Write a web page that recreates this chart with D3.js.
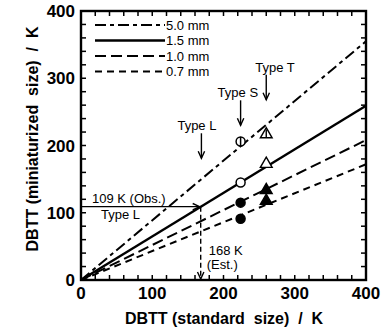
<!DOCTYPE html>
<html><head><meta charset="utf-8">
<script src="https://cdn.jsdelivr.net/npm/d3@7"></script>
<style>
html,body{margin:0;padding:0;background:#fff;}
svg{display:block;font-family:"Liberation Sans",Arial,Helvetica,sans-serif;}
text{white-space:pre;}
</style></head>
<body><svg id="c" width="385" height="331"></svg>
<script>
// ---- data ----
const seriesNames = ["5.0 mm", "1.5 mm", "1.0 mm", "0.7 mm"];
const seriesAt0 = [0, 0, 0, 0];
const seriesAt400 = [355, 259, 208, 172];
const typeNames = ["Type L", "Type S", "Type T"];
const typeX = [169, 224, 260];
const typeArrowTip = [181, 230, 268];
const typeS = [206, 145, 115, 91];   // 5.0, 1.5, 1.0, 0.7 mm
const typeT = [218, 174, 135, 119];
const obsY = 109;
const estX = 168;
const xTicks = [0, 100, 200, 300, 400];
const yTicks = [0, 100, 200, 300, 400];
const minorTicks = d3.range(0, 401, 20);

// ---- layout ----
const svg = d3.select("#c");
const x = d3.scaleLinear().domain([0, 400]).range([81, 366]);
const y = d3.scaleLinear().domain([0, 400]).range([280, 11]);
const dashes = ["11,4,4,4", null, "11,5", "7,5"];
const widths = [2, 2.4, 2, 2];

// series lines
seriesNames.forEach((n, i) => {
  svg.append("line")
    .attr("x1", x(0)).attr("y1", y(seriesAt0[i]))
    .attr("x2", x(400)).attr("y2", y(seriesAt400[i]))
    .attr("stroke", "#000").attr("stroke-width", widths[i])
    .attr("stroke-dasharray", dashes[i]);
});

// legend
seriesNames.forEach((n, i) => {
  const ly = 25 + i * 15.5;
  svg.append("line").attr("x1", 95).attr("x2", 165).attr("y1", ly).attr("y2", ly)
    .attr("stroke", "#000").attr("stroke-width", widths[i]).attr("stroke-dasharray", dashes[i]);
  svg.append("text").attr("x", 166).attr("y", ly + 4.5).attr("font-size", 13).text(n);
});

// markers
function circ(cx, cy, filled, bar) {
  svg.append("circle").attr("cx", cx).attr("cy", cy).attr("r", 4.5)
    .attr("fill", filled ? "#000" : "#fff").attr("stroke", "#000").attr("stroke-width", 1.5);
  if (bar) svg.append("line").attr("x1", cx).attr("x2", cx).attr("y1", cy - 4.5).attr("y2", cy + 4.5)
    .attr("stroke", "#000").attr("stroke-width", 1.5);
}
function tri(cx, cy, filled, bar) {
  const p = d3.symbol().type(d3.symbolTriangle).size(60)();
  svg.append("path").attr("d", p).attr("transform", `translate(${cx},${cy + 1})`)
    .attr("fill", filled ? "#000" : "#fff").attr("stroke", "#000").attr("stroke-width", 1.4);
  if (bar) svg.append("line").attr("x1", cx).attr("x2", cx).attr("y1", cy - 4).attr("y2", cy + 4)
    .attr("stroke", "#000").attr("stroke-width", 1.4);
}
typeS.forEach((v, i) => circ(x(224), y(v), i >= 2, i === 0));
typeT.forEach((v, i) => tri(x(260), y(v), i >= 2, i === 0));

// arrow helper (chevron head)
function head(px, py, dir) {
  const s = 3.2, l = 7;
  let d;
  if (dir === "down") d = `M${px - s},${py - l}L${px},${py}L${px + s},${py - l}`;
  else d = `M${px - l},${py - s}L${px},${py}L${px - l},${py + s}`;
  svg.append("path").attr("d", d).attr("fill", "none").attr("stroke", "#000").attr("stroke-width", 1.4);
}

// Type arrows
const textDx = [-24, -23, -11];
typeNames.forEach((n, i) => {
  const ax = x(typeX[i]), tip = y(typeArrowTip[i]);
  svg.append("line").attr("x1", ax).attr("x2", ax).attr("y1", tip - 25).attr("y2", tip)
    .attr("stroke", "#000").attr("stroke-width", 1.4);
  head(ax, tip, "down");
  svg.append("text").attr("x", ax + textDx[i]).attr("y", tip - 28).attr("font-size", 13).text(n);
});

// 109 K observation arrow
svg.append("line").attr("x1", x(0)).attr("x2", x(estX)).attr("y1", y(obsY)).attr("y2", y(obsY))
  .attr("stroke", "#000").attr("stroke-width", 1.2);
head(x(estX) - 1, y(obsY), "right");
svg.append("text").attr("x", 92).attr("y", y(obsY) - 4).attr("font-size", 13).text("109 K (Obs.)");
svg.append("text").attr("x", 101).attr("y", y(obsY) + 12).attr("font-size", 13).text("Type L");

// 168 K estimate arrow (dashed)
svg.append("line").attr("x1", x(estX)).attr("x2", x(estX)).attr("y1", y(obsY)).attr("y2", y(0) - 1)
  .attr("stroke", "#000").attr("stroke-width", 1.4).attr("stroke-dasharray", "5,3");
head(x(estX), y(0) - 1, "down");
svg.append("text").attr("x", x(estX) + 8).attr("y", 255).attr("font-size", 13).text("168 K");
svg.append("text").attr("x", x(estX) + 6).attr("y", 269).attr("font-size", 13).text("(Est.)");

// frame and ticks (inward on all sides)
const tl = 5;
const tg = svg.append("g").attr("stroke", "#000").attr("stroke-width", 1.5);
minorTicks.forEach(t => {
  tg.append("line").attr("x1", x(t)).attr("x2", x(t)).attr("y1", y(0)).attr("y2", y(0) - tl);
  tg.append("line").attr("x1", x(t)).attr("x2", x(t)).attr("y1", y(400)).attr("y2", y(400) + tl);
  tg.append("line").attr("y1", y(t)).attr("y2", y(t)).attr("x1", x(0)).attr("x2", x(0) + tl);
  tg.append("line").attr("y1", y(t)).attr("y2", y(t)).attr("x1", x(400)).attr("x2", x(400) - tl);
});
svg.append("rect").attr("x", x(0)).attr("y", y(400)).attr("width", x(400) - x(0)).attr("height", y(0) - y(400))
  .attr("fill", "none").attr("stroke", "#000").attr("stroke-width", 2.4);

// tick labels
xTicks.forEach(t => svg.append("text").attr("x", x(t)).attr("y", 299).attr("text-anchor", "middle")
  .attr("font-size", 17).attr("font-weight", "bold").text(t));
yTicks.forEach(t => svg.append("text").attr("x", 75).attr("y", y(t)).attr("dy", "0.36em").attr("text-anchor", "end")
  .attr("font-size", 17).attr("font-weight", "bold").text(t));

// axis titles
svg.append("text").attr("x", 224).attr("y", 324).attr("text-anchor", "middle")
  .attr("font-size", 16).attr("font-weight", "bold").text("DBTT (standard  size)  /  K");
svg.append("text").attr("transform", "translate(38,139) rotate(-90)").attr("text-anchor", "middle")
  .attr("font-size", 16).attr("font-weight", "bold").text("DBTT (miniaturized  size)  /  K");
</script></body></html>
